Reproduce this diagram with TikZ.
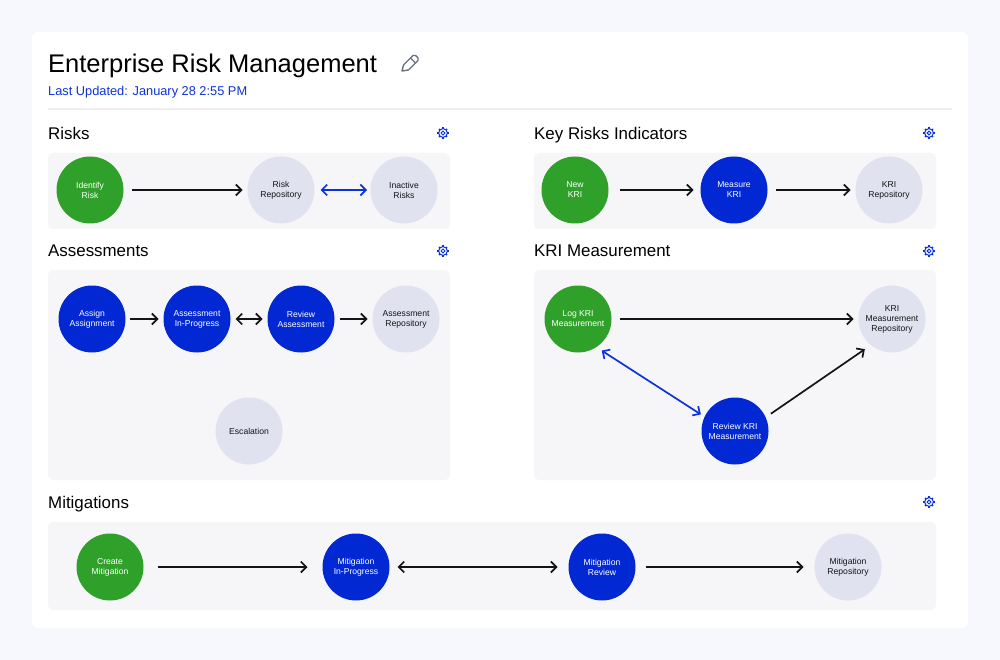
\documentclass[tikz,border=0pt]{standalone}
\usepackage{fontspec}
\setmainfont{Liberation Sans}
\usetikzlibrary{arrows.meta, positioning}
\definecolor{pagebg}{HTML}{F7F8FD}
\definecolor{panelbg}{HTML}{F6F6F9}
\definecolor{startgreen}{HTML}{2FA12A}
\definecolor{stepblue}{HTML}{0128D3}
\definecolor{endgray}{HTML}{E0E2EF}
\definecolor{linkblue}{HTML}{0B33DC}
\definecolor{rulegray}{HTML}{EEEEF0}
\definecolor{inkblack}{HTML}{141418}
\definecolor{pencilgray}{HTML}{6B7080}
\newcommand{\gearicon}[1]{%
  \foreach \ang in {0,45,...,315} {
    \draw[linkblue, line width=1.7pt] (#1) ++(\ang:3.9) -- ++(\ang:1.7);
  }
  \draw[linkblue, line width=1pt] (#1) circle (4.4);
  \draw[linkblue, line width=0.9pt] (#1) circle (1.9);
}
\begin{document}
\begin{tikzpicture}[
  x=1pt, y=-1pt,
  card/.style={fill=white, rounded corners=6pt},
  panel/.style={fill=panelbg, rounded corners=5pt},
  heading/.style={anchor=base west, inner sep=0pt, font=\fontsize{16.9}{20}\selectfont, text=black},
  startnode/.style={circle, fill=startgreen, minimum size=67pt, inner sep=0pt, outer sep=0pt, align=center, text=white, font=\fontsize{8.6}{10}\selectfont, execute at begin node=\vspace*{2pt}},
  stepnode/.style={startnode, fill=stepblue},
  endnode/.style={startnode, fill=endgray, text=inkblack},
  flowedge/.style={-{Straight Barb[length=5.5pt,width=11pt]}, inkblack, line width=1.7pt, shorten <=8pt, shorten >=5pt},
  bothedge/.style={{Straight Barb[length=5.5pt,width=11pt]}-{Straight Barb[length=5.5pt,width=11pt]}, inkblack, line width=1.7pt, shorten <=5pt, shorten >=5pt},
  blueedge/.style={bothedge, linkblue},
]
  \useasboundingbox (0,0) rectangle (1000,660);
  \fill[pagebg] (0,0) rectangle (1000,660);
  \fill[card] (32,32) rectangle (968,628);

  % Header
  \node[anchor=base west, inner sep=0pt, font=\fontsize{25.5}{30}\selectfont, text=black] (title) at (48,73) {Enterprise Risk Management};
  \node[anchor=base west, inner sep=0pt, font=\fontsize{12.8}{15}\selectfont, text=linkblue] (updated) at (48,95.5) {Last Updated: January 28 2:55 PM};
  \draw[rulegray, line width=1.5pt] (48,109) -- (952,109);

  % Pencil icon
  \draw[pencilgray, line width=1.4pt, line join=round] (402,71) -- (403.5,65) -- (413,55.5) -- (415.5,55.5) -- (418,58) -- (418,60.5) -- (408.5,70) -- cycle;
  \draw[pencilgray, line width=1.2pt] (410.5,58) -- (415.5,63);

  % Panels
  \fill[panel] (48,153) rectangle (450,229);
  \fill[panel] (534,153) rectangle (936,229);
  \fill[panel] (48,270) rectangle (450,480);
  \fill[panel] (534,270) rectangle (936,480);
  \fill[panel] (48,522) rectangle (936,610);

  % Headings
  \node[heading] (risks) at (48,139.5) {Risks};
  \node[heading] (kri) at (534,139.5) {Key Risks Indicators};
  \node[heading] (assess) at (48,256.5) {Assessments};
  \node[heading] (krim) at (534,256.5) {KRI Measurement};
  \node[heading] (mitig) at (48,508.5) {Mitigations};

  % Gear icons
  \gearicon{443,133}
  \gearicon{929,133}
  \gearicon{443,251}
  \gearicon{929,251}
  \gearicon{929,502}

  % Risks
  \node[startnode] (identify) at (90,190) {Identify\\Risk};
  \node[endnode] (riskrepo) at (281,190) {Risk\\Repository};
  \node[endnode] (inactive) at (404,190) {Inactive\\Risks};
  \draw[flowedge] (identify) -- (riskrepo);
  \draw[blueedge, shorten <=6pt, shorten >=3.5pt] (riskrepo) -- (inactive);

  % Key risks indicators
  \node[startnode] (newkri) at (575,190) {New\\KRI};
  \node[stepnode] (measure) at (734,190) {Measure\\KRI};
  \node[endnode] (krirepo) at (889,190) {KRI\\Repository};
  \draw[flowedge, shorten <=11pt, shorten >=7pt] (newkri) -- (measure);
  \draw[flowedge] (measure) -- (krirepo);

  % Assessments
  \node[stepnode] (assign) at (92,319) {Assign\\Assignment};
  \node[stepnode] (inprog) at (197,319) {Assessment\\In-Progress};
  \node[stepnode] (review) at (301,319) {Review\\Assessment};
  \node[endnode] (assessrepo) at (406,319) {Assessment\\Repository};
  \node[endnode] (escal) at (249,431) {Escalation};
  \draw[flowedge, shorten <=4.5pt] (assign) -- (inprog);
  \draw[bothedge] (inprog) -- (review);
  \draw[flowedge, shorten <=5pt] (review) -- (assessrepo);

  % KRI measurement
  \node[startnode] (logkri) at (578,319) {Log KRI\\Measurement};
  \node[endnode] (krimrepo) at (892,319) {KRI\\Measurement\\Repository};
  \node[stepnode] (reviewkri) at (735,431) {Review KRI\\Measurement};
  \draw[flowedge] (logkri) -- (krimrepo);
  \draw[blueedge, shorten <=6.5pt, shorten >=4.5pt] (logkri.-57) -- (reviewkri.155);
  \draw[flowedge, shorten <=6.4pt, shorten >=7.4pt] (reviewkri.24) -- (krimrepo.231);

  % Mitigations
  \node[startnode] (create) at (110,567) {Create\\Mitigation};
  \node[stepnode] (mitprog) at (356,567) {Mitigation\\In-Progress};
  \node[stepnode] (mitrev) at (602,567) {Mitigation\\Review};
  \node[endnode] (mitrepo) at (848,567) {Mitigation\\Repository};
  \draw[flowedge, shorten <=14pt, shorten >=15pt] (create) -- (mitprog);
  \draw[bothedge, shorten <=8pt, shorten >=11pt] (mitprog) -- (mitrev);
  \draw[flowedge, shorten <=10pt, shorten >=11pt] (mitrev) -- (mitrepo);
\end{tikzpicture}
\end{document}
